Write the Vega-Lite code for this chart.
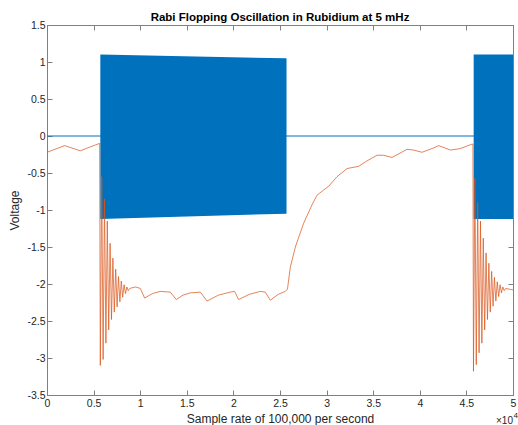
{
  "$schema": "https://vega.github.io/schema/vega-lite/v6.json",
  "width": 466,
  "height": 370,
  "autosize": "none",
  "padding": {"left": 47, "top": 25, "right": 5, "bottom": 30},
  "background": "white",
  "title": {"text": "Rabi Flopping Oscillation in Rubidium at 5 mHz", "fontSize": 11.5, "fontWeight": "bold", "font": "Liberation Sans", "color": "#000000", "offset": -3, "anchor": "middle"},
  "config": {
    "view": {"stroke": "#808080", "strokeWidth": 1},
    "axis": {"grid": false, "domainColor": "#808080", "tickColor": "#808080", "labelFont": "Liberation Sans", "titleFont": "Liberation Sans", "labelColor": "#262626", "titleColor": "#262626", "labelFontSize": 10.5, "titleFontSize": 12, "titleFontWeight": "normal"}
  },
  "datasets": {
    "blue": [{"t": 0, "v": 0}, {"t": 50000, "v": 0}],
    "burst": [
      {"burst": "a", "t": 5720, "hi": 1.10, "lo": -1.12},
      {"burst": "a", "t": 25700, "hi": 1.05, "lo": -1.05},
      {"burst": "b", "t": 45780, "hi": 1.10, "lo": -1.12},
      {"burst": "b", "t": 50000, "hi": 1.10, "lo": -1.12}
    ],
    "orange": [
      {"t": 0, "v": -0.22}, {"t": 1900, "v": -0.13}, {"t": 3570, "v": -0.20}, {"t": 5200, "v": -0.12}, {"t": 5650, "v": -0.10},
      {"t": 5720, "v": -3.10}, {"t": 5870, "v": -0.55}, {"t": 6020, "v": -3.02}, {"t": 6170, "v": -0.85}, {"t": 6320, "v": -2.80},
      {"t": 6470, "v": -1.15}, {"t": 6620, "v": -2.62}, {"t": 6770, "v": -1.45}, {"t": 6920, "v": -2.48}, {"t": 7070, "v": -1.65},
      {"t": 7220, "v": -2.38}, {"t": 7370, "v": -1.80}, {"t": 7520, "v": -2.31}, {"t": 7670, "v": -1.90}, {"t": 7820, "v": -2.24},
      {"t": 7970, "v": -1.96}, {"t": 8120, "v": -2.18}, {"t": 8270, "v": -2.01}, {"t": 8420, "v": -2.13}, {"t": 8570, "v": -2.04},
      {"t": 8720, "v": -2.09}, {"t": 8870, "v": -2.06}, {"t": 9500, "v": -2.04}, {"t": 10011, "v": -2.06}, {"t": 10473, "v": -2.19},
      {"t": 11300, "v": -2.13}, {"t": 12160, "v": -2.10}, {"t": 13233, "v": -2.11}, {"t": 13874, "v": -2.21}, {"t": 14600, "v": -2.15},
      {"t": 15376, "v": -2.12}, {"t": 16450, "v": -2.11}, {"t": 17168, "v": -2.23}, {"t": 18400, "v": -2.15}, {"t": 19668, "v": -2.11},
      {"t": 20130, "v": -2.10}, {"t": 20559, "v": -2.21}, {"t": 21700, "v": -2.14}, {"t": 22887, "v": -2.10}, {"t": 23424, "v": -2.11},
      {"t": 23960, "v": -2.22}, {"t": 24800, "v": -2.14}, {"t": 25570, "v": -2.10}, {"t": 25800, "v": -2.07}, {"t": 26110, "v": -1.77},
      {"t": 26647, "v": -1.50}, {"t": 27533, "v": -1.18}, {"t": 28435, "v": -0.93}, {"t": 28971, "v": -0.80}, {"t": 29680, "v": -0.73},
      {"t": 30216, "v": -0.68}, {"t": 31117, "v": -0.55}, {"t": 32190, "v": -0.44}, {"t": 33435, "v": -0.41}, {"t": 34154, "v": -0.35},
      {"t": 35409, "v": -0.26}, {"t": 36118, "v": -0.26}, {"t": 37019, "v": -0.29}, {"t": 38628, "v": -0.18}, {"t": 39336, "v": -0.19},
      {"t": 40238, "v": -0.22}, {"t": 41311, "v": -0.17}, {"t": 42019, "v": -0.13}, {"t": 43300, "v": -0.19}, {"t": 44350, "v": -0.17},
      {"t": 45600, "v": -0.11}, {"t": 45700, "v": -0.11},
      {"t": 45760, "v": -3.18}, {"t": 45910, "v": -0.57}, {"t": 46060, "v": -3.09}, {"t": 46210, "v": -0.90}, {"t": 46360, "v": -2.93},
      {"t": 46510, "v": -1.15}, {"t": 46660, "v": -2.80}, {"t": 46810, "v": -1.38}, {"t": 46960, "v": -2.62}, {"t": 47110, "v": -1.58},
      {"t": 47260, "v": -2.48}, {"t": 47410, "v": -1.72}, {"t": 47560, "v": -2.38}, {"t": 47710, "v": -1.83}, {"t": 47860, "v": -2.30},
      {"t": 48010, "v": -1.91}, {"t": 48160, "v": -2.23}, {"t": 48310, "v": -1.97}, {"t": 48460, "v": -2.17}, {"t": 48610, "v": -2.01},
      {"t": 48760, "v": -2.12}, {"t": 48910, "v": -2.04}, {"t": 49060, "v": -2.09}, {"t": 49210, "v": -2.06}, {"t": 49600, "v": -2.07},
      {"t": 50000, "v": -2.08}
    ],
    "note": [{"base": "×10", "exp": "4"}]
  },
  "layer": [
    {
      "data": {"name": "blue"},
      "mark": {"type": "line", "color": "#0072BD", "strokeWidth": 1},
      "encoding": {
        "x": {"field": "t", "type": "quantitative", "scale": {"domain": [0, 50000], "nice": false, "zero": false},
          "axis": {"orient": "bottom", "values": [0, 5000, 10000, 15000, 20000, 25000, 30000, 35000, 40000, 45000, 50000], "labelExpr": "format(datum.value / 10000, '~g')", "tickSize": -5, "labelPadding": 8, "labelFlush": false, "title": "Sample rate of 100,000 per second", "titleX": 233, "titleY": 27, "titleBaseline": "alphabetic", "titleAlign": "center"}},
        "y": {"field": "v", "type": "quantitative", "scale": {"domain": [-3.5, 1.5], "nice": false, "zero": false},
          "axis": {"orient": "left", "values": [-3.5, -3, -2.5, -2, -1.5, -1, -0.5, 0, 0.5, 1, 1.5], "labelExpr": "replace(format(datum.value, '~g'), '−', '-')", "tickSize": -5, "labelPadding": 7, "labelFlush": false, "title": "Voltage", "titleX": -26, "titleY": 185, "titleBaseline": "bottom", "titleAlign": "center", "titleAngle": 270}}
      }
    },
    {
      "data": {"name": "burst"},
      "mark": {"type": "area", "color": "#0072BD", "opacity": 1},
      "encoding": {
        "x": {"field": "t", "type": "quantitative",
          "axis": {"orient": "top", "values": [0, 5000, 10000, 15000, 20000, 25000, 30000, 35000, 40000, 45000, 50000], "labels": false, "title": null, "tickSize": -5}},
        "y": {"field": "hi", "type": "quantitative",
          "axis": {"orient": "right", "values": [-3.5, -3, -2.5, -2, -1.5, -1, -0.5, 0, 0.5, 1, 1.5], "labels": false, "title": null, "tickSize": -5}},
        "y2": {"field": "lo"},
        "detail": {"field": "burst"}
      }
    },
    {
      "data": {"name": "orange"},
      "mark": {"type": "line", "color": "#D95319", "strokeWidth": 0.9, "opacity": 0.8},
      "encoding": {
        "x": {"field": "t", "type": "quantitative", "axis": null},
        "y": {"field": "v", "type": "quantitative", "axis": null}
      }
    },
    {
      "data": {"name": "note"},
      "mark": {"type": "text", "font": "Liberation Sans", "fontSize": 10, "color": "#262626", "align": "right", "baseline": "alphabetic", "dx": 0, "dy": 28.5},
      "encoding": {
        "x": {"datum": 50000, "type": "quantitative", "axis": null},
        "y": {"datum": -3.5, "type": "quantitative", "axis": null},
        "text": {"field": "base"}
      }
    },
    {
      "data": {"name": "note"},
      "mark": {"type": "text", "font": "Liberation Sans", "fontSize": 8, "color": "#262626", "align": "left", "baseline": "alphabetic", "dx": 0.5, "dy": 22.5},
      "encoding": {
        "x": {"datum": 50000, "type": "quantitative", "axis": null},
        "y": {"datum": -3.5, "type": "quantitative", "axis": null},
        "text": {"field": "exp"}
      }
    }
  ],
  "resolve": {"axis": {"x": "independent", "y": "independent"}}
}
